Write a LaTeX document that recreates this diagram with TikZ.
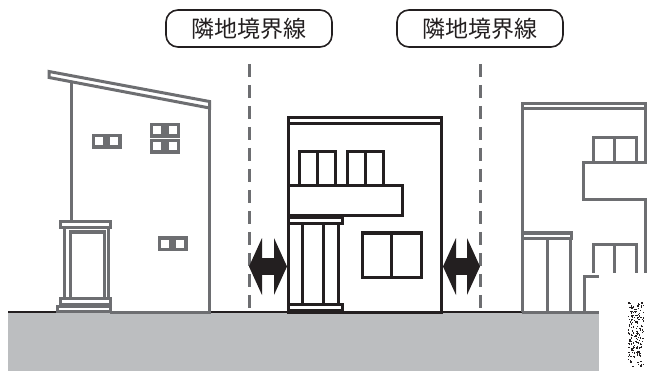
\documentclass[tikz,border=0pt]{standalone}
\usepackage{fontspec}
\newfontfamily\jpfont{Noto Sans CJK JP}
\usetikzlibrary{arrows.meta}
\definecolor{housegray}{HTML}{6D6E71}
\definecolor{inkblack}{HTML}{231F20}
\definecolor{groundgray}{HTML}{BCBEC0}

\begin{document}
\begin{tikzpicture}[x=1pt,y=-1pt,
    gline/.style={draw=housegray,line width=3pt},
    bline/.style={draw=inkblack,line width=3pt},
    win/.style={draw=housegray,line width=3.5pt},
    border/.style={draw=housegray,line width=3pt,dash pattern=on 13pt off 8pt},
    tag/.style={draw=inkblack,line width=1.6pt,rounded corners=12pt,
      minimum width=166pt,minimum height=37pt,inner sep=0pt,text=inkblack,
      font=\jpfont\fontsize{23pt}{23pt}\selectfont},
    gap/.style={draw=inkblack,line width=17pt,
      >={Triangle[length=13pt 0 0,width=57pt 0 0,line width=0pt 0 0]},<->}]
  \useasboundingbox (0,0) rectangle (647,371);
  \clip (0,0) rectangle (647,371);

  % ground
  \fill[groundgray] (8,313) rectangle (647,371);
  \draw[inkblack,line width=2.5pt] (8,312) -- (522,312);
  \coordinate (grnd) at (0,312);

  % left house
  \draw[gline,fill=white] (49,71.5) -- (209.5,101.5) -- (209.5,108) -- (49,77.5) -- cycle;
  \draw[gline] (71,82) -- (71,222);
  \draw[gline] (209,108) -- (209,312) -- (110,312);
  \draw[gline] (60,222) rectangle (110,227.5);
  \draw[gline] (64.5,227.5) -- (64.5,298);
  \draw[gline] (108,227.5) -- (108,298);
  \draw[gline] (70,298) -- (70,232) -- (104.5,232) -- (104.5,298);
  \draw[gline] (60,298.5) rectangle (110,304.5);
  \draw[gline,fill=white] (57.5,306.5) rectangle (110,311.5);
  \foreach \x/\y in {93.5/135.5, 108.5/135.5, 151.5/124.5, 167/124.5,
                     151.5/140.5, 167/140.5, 159.5/238, 174.5/238}
    \draw[win] (\x,\y) rectangle ++(11.5,11.5);

  % house in the middle
  \draw[bline] (288.5,118) rectangle (441,312);
  \draw[bline] (288.5,124) -- (441,124);
  \draw[bline] (299,152) rectangle (335,186);
  \draw[bline] (317,152) -- (317,186);
  \draw[bline] (347,152) rectangle (383,186);
  \draw[bline] (365,152) -- (365,186);
  \draw[bline] (288.5,186) rectangle (402,215.5);
  \draw[bline] (288.5,218) rectangle (342,223.5);
  \foreach \x in {302,323,338}
    \draw[bline] (\x,223.5) -- (\x,304);
  \draw[bline] (288.5,304) rectangle (342,310);
  \draw[bline] (362,233) rectangle (421,277);
  \draw[bline] (391,233) -- (391,277);

  % right house
  \draw[gline] (522,312) -- (522,103.5) -- (645,103.5) -- (645,163);
  \draw[gline] (522,109) -- (645,109);
  \draw[gline] (593,163) -- (593,138) -- (636,138) -- (636,163);
  \draw[gline] (614,138) -- (614,163);
  \draw[gline] (650,163) -- (583,163) -- (583,200) -- (650,200);
  \draw[gline] (645,200) -- (645,273);
  \draw[gline] (593,273) -- (593,244) -- (636,244) -- (636,273);
  \draw[gline] (614,244) -- (614,273);
  \draw[gline] (522,233) rectangle (571,238.5);
  \draw[gline] (547,238.5) -- (547,312);
  \draw[gline] (570,238.5) -- (570,312);
  \draw[gline] (600,276) -- (584,276) -- (584,312);
  \draw[gline] (522,312) -- (600,312);

  % boundary labels and lines
  \node[tag] (lbl1) at (249,28.5) {隣地境界線};
  \node[tag] (lbl2) at (480,28.5) {隣地境界線};
  \draw[border] ([yshift=-16pt]lbl1.south) -- (lbl1.south |- grnd);
  \draw[border] ([yshift=-16pt]lbl2.south) -- (lbl2.south |- grnd);

  % gaps to the boundary
  \coordinate (al) at (287,266.5);
  \coordinate (ar) at (443,266.5);
  \draw[gap] (lbl1.south |- al) -- (al);
  \draw[gap] (ar) -- (lbl2.south |- ar);

  % corner stamp
  \fill[white] (599,273) rectangle (647,371);
  \pgfmathsetseed{11}
  \foreach \i in {1,...,170} {
    \pgfmathsetmacro\px{628+15*rnd}
    \pgfmathsetmacro\py{302+65*rnd}
    \fill[inkblack] (\px,\py) rectangle ++(1.3,1.3);
  }
\end{tikzpicture}
\end{document}
